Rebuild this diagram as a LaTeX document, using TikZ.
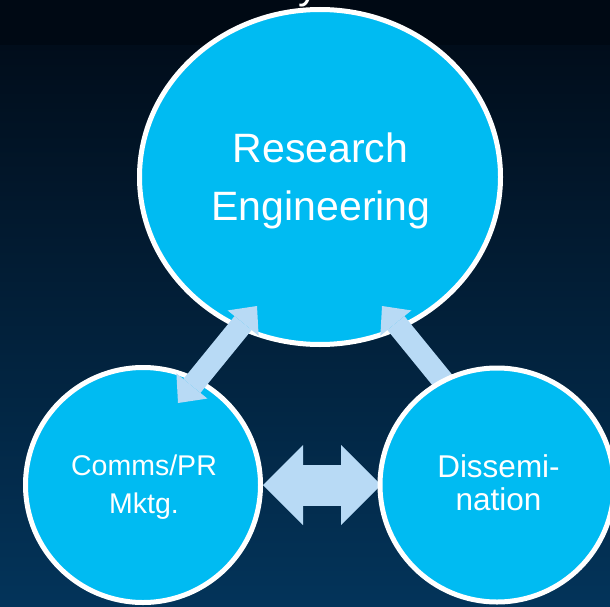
\documentclass[tikz,border=0pt]{standalone}
\usepackage{fontspec}
\setmainfont{Liberation Sans}
\usetikzlibrary{shapes.geometric,arrows.meta}
\definecolor{bgtop}{RGB}{1,10,22}
\definecolor{bgmid}{RGB}{2,28,50}
\definecolor{bgbot}{RGB}{3,52,90}
\definecolor{bandcol}{RGB}{0,9,20}
\definecolor{circfill}{RGB}{0,187,242}
\definecolor{arrowblue}{RGB}{184,218,245}
\begin{document}
\begin{tikzpicture}[x=1pt,y=-1pt,
  bubble/.style={circle, draw=white, line width=5pt, fill=circfill, inner sep=0pt, minimum size=235pt},
  bigbubble/.style={ellipse, draw=white, line width=5pt, fill=circfill, inner sep=0pt, minimum width=361pt, minimum height=335pt},
  bubbletext/.style={text=white, inner sep=0pt, anchor=base},
  diagarrow/.style={draw=arrowblue, line width=22pt},
  diaghead/.style={Triangle[width=40pt,length=22pt,line width=0pt]},
  flatarrow/.style={draw=arrowblue, line width=41pt}
]
\useasboundingbox (0,0) rectangle (610,607);
\clip (0,0) rectangle (610,607);
\shade[top color=bgtop, middle color=bgmid, bottom color=bgbot] (0,0) rectangle (610,607);
\fill[bandcol] (0,0) rectangle (610,45);
\node[text=white, inner sep=0pt, anchor=base west, font=\fontsize{41}{49}\selectfont] (ytail) at (298,-1) {y};

\node[bigbubble] (top) at (320,177) {};
\node[bubble] (left) at (143,485) {};

\coordinate (la) at (178,403);
\coordinate (lb) at (257,306);
\draw[diagarrow, {Triangle[width=40pt,length=22pt,line width=0pt]}-{Triangle[width=40pt,length=22pt,line width=0pt]}] (la) -- (lb);

\coordinate (ra) at (461,403);
\coordinate (rb) at (382,306);
\draw[diagarrow, -{Triangle[width=40pt,length=22pt,line width=0pt]}] (ra) -- (rb);

\coordinate (ha) at (263,485);
\coordinate (hb) at (381,485);
\draw[flatarrow, {Triangle[width=80pt,length=40pt,line width=0pt]}-{Triangle[width=80pt,length=40pt,line width=0pt]}] (ha) -- (hb);

\node[bubble, minimum size=234pt] (right) at (497,485) {};

\node[bubbletext, font=\fontsize{41}{49}\selectfont] (t1) at (320.5,162) {Research};
\node[bubbletext, font=\fontsize{41}{49}\selectfont] (t2) at (321,220) {Engineering};
\node[bubbletext, font=\fontsize{28.5}{34}\selectfont] (l1) at (144,475) {Comms/PR};
\node[bubbletext, font=\fontsize{28.5}{34}\selectfont] (l2) at (144,513) {Mktg.};
\node[bubbletext, font=\fontsize{31.5}{38}\selectfont] (r1) at (498.5,477) {Dissemi-};
\node[bubbletext, font=\fontsize{31.5}{38}\selectfont] (r2) at (498.5,510.5) {nation};
\end{tikzpicture}
\end{document}
